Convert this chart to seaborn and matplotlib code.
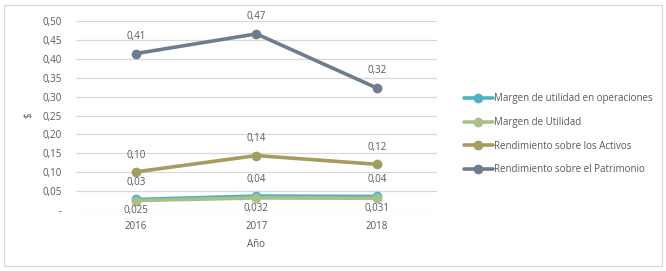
import numpy as np
import pandas as pd
import matplotlib
matplotlib.use("Agg")
import matplotlib.pyplot as plt
import seaborn as sns
from matplotlib.patches import Rectangle

years = ["2016", "2017", "2018"]
margen_oper = [0.028, 0.037, 0.036]
margen_util = [0.025, 0.032, 0.031]
rend_activos = [0.101, 0.144, 0.121]
rend_patrimonio = [0.414, 0.466, 0.323]

lbl_oper = ["0,03", "0,04", "0,04"]
lbl_util = ["0,025", "0,032", "0,031"]
lbl_activos = ["0,10", "0,14", "0,12"]
lbl_patrimonio = ["0,41", "0,47", "0,32"]

series_names = ["Margen de utilidad en operaciones", "Margen de Utilidad",
                "Rendimiento sobre los Activos", "Rendimiento sobre el Patrimonio"]
colors = ["#4DB3C2", "#AAC08A", "#A59C5F", "#6D7D8E"]

df = pd.DataFrame({
    "Año": years * 4,
    "valor": margen_oper + margen_util + rend_activos + rend_patrimonio,
    "serie": sum([[s] * 3 for s in series_names], []),
})

sns.set_style("white")
plt.rcParams["font.family"] = ["Open Sans", "DejaVu Sans"]
text_color = "#595959"

fig = plt.figure(figsize=(6.66, 2.71), dpi=100)
ax = fig.add_axes([0.114, 0.225, 0.542, 0.6975])

sns.lineplot(data=df, x="Año", y="valor", hue="serie", hue_order=series_names,
             palette=colors, marker="o", markersize=7, markeredgewidth=0,
             linewidth=2.6, ax=ax, sort=False)

ax.set_xlim(-0.5, 2.5)
ax.set_ylim(0, 0.5)
yt = np.arange(0, 0.51, 0.05)
ax.set_yticks(yt)
ax.set_yticklabels(["-"] + [f"{v:.2f}".replace(".", ",") for v in yt[1:]])
ax.yaxis.grid(True, color="#D9D9D9", linewidth=0.9)
ax.set_axisbelow(True)
for s in ax.spines.values():
    s.set_visible(False)
ax.tick_params(axis="y", length=0, labelsize=7, colors=text_color, pad=10)
ax.tick_params(axis="x", length=0, labelsize=7, colors=text_color, pad=8)
ax.set_xlabel("Año", fontsize=7, color=text_color, labelpad=5)
ax.set_ylabel("$", fontsize=7, color=text_color, labelpad=6)

def annotate(vals, labels, dy):
    for i, (v, t) in enumerate(zip(vals, labels)):
        ax.annotate(t, (i, v), xytext=(0, dy), textcoords="offset points",
                    ha="center", va="center", fontsize=7, color=text_color)

annotate(rend_patrimonio, lbl_patrimonio, 12.5)
annotate(rend_activos, lbl_activos, 12)
annotate(margen_oper, lbl_oper, 12)
annotate(margen_util, lbl_util, -7.5)

leg = ax.legend(loc="center left", bbox_to_anchor=(1.05, 0.40), frameon=False,
                fontsize=7, handlelength=3.0, handletextpad=0.1, labelspacing=1.3,
                labelcolor=text_color)
for h in leg.get_lines():
    h.set_linewidth(2.6)

fig.patches.append(Rectangle((0.006, 0.018), 0.988, 0.962, transform=fig.transFigure,
                             fill=False, edgecolor="#D9D9D9", linewidth=0.9))

fig.savefig("out.png", dpi=100)
